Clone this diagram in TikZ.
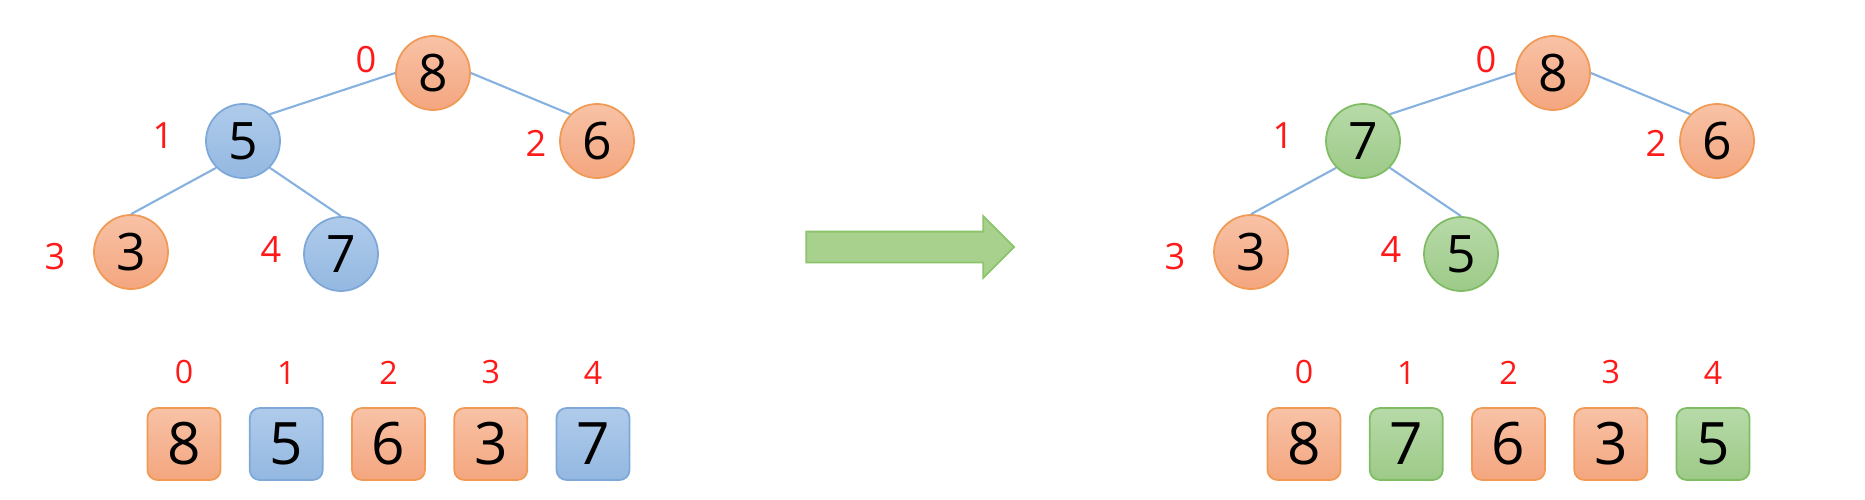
\documentclass[tikz,border=0pt]{standalone}
\usepackage{fontspec}
\setmainfont{Open Sans}
\usepackage{tikz}
\usetikzlibrary{positioning, shapes.arrows, matrix}

\definecolor{StayTop}{HTML}{F8C2A6}
\definecolor{StayBot}{HTML}{F4A67F}
\definecolor{StayLine}{HTML}{F09A55}
\definecolor{BlueTop}{HTML}{AFCBEB}
\definecolor{BlueBot}{HTML}{94B8E1}
\definecolor{BlueLine}{HTML}{7DA8D8}
\definecolor{GreenTop}{HTML}{B7DAA8}
\definecolor{GreenBot}{HTML}{9DCA88}
\definecolor{GreenLine}{HTML}{80BC64}
\definecolor{EdgeBlue}{HTML}{86B1E0}
\definecolor{IndexRed}{HTML}{FF1A1A}
\definecolor{ArrowFill}{HTML}{A9D18E}
\definecolor{ArrowLine}{HTML}{8CC46C}

\begin{document}
\begin{tikzpicture}[
  vertex/.style ={circle, line width=1pt, minimum size=1.48cm, inner sep=0pt,
    font=\fontsize{29.4}{30}\selectfont},
  %
  cell/.style ={rectangle, rounded corners=2mm, line width=1pt,
    minimum width=1.46cm, minimum height=1.44cm, inner sep=0pt,
    font=\fontsize{33.3}{34}\selectfont},
  %
  stay/.style ={draw=StayLine, top color=StayTop, bottom color=StayBot},
  oldswap/.style ={draw=BlueLine, top color=BlueTop, bottom color=BlueBot},
  newswap/.style ={draw=GreenLine, top color=GreenTop, bottom color=GreenBot},
  %
  idx/.style ={text=IndexRed, inner sep=0pt, font=\fontsize{20.6}{21}\selectfont},
  slotnum/.style ={text=IndexRed, inner sep=0pt, font=\fontsize{18.3}{19}\selectfont},
  branch/.style ={draw=EdgeBlue, line width=1.2pt} ]

  \useasboundingbox (0,0) rectangle (37.3,9.98);

  \begin{scope}
    % tree before sift down
    \node [vertex, stay] (L8) at (8.66,8.52) {8};
    \node [vertex, oldswap] (L5) at (4.86,7.16) {5};
    \node [vertex, stay] (L6) at (11.94,7.16) {6};
    \node [vertex, stay] (L3) at (2.62,4.94) {3};
    \node [vertex, oldswap] (L7) at (6.82,4.90) {7};
    %
    \node [idx] (Li0) at (7.32,8.78) {0};
    \node [idx] (Li1) at (3.26,7.26) {1};
    \node [idx] (Li2) at (10.72,7.12) {2};
    \node [idx] (Li3) at (1.10,4.84) {3};
    \node [idx] (Li4) at (5.42,4.98) {4};
    %
    \draw [branch] (L8.west) -- (L5.north east);
    \draw [branch] (L8.east) -- (L6.north west);
    \draw [branch] (L5.south west) -- (L3.north);
    \draw [branch] (L5.south east) -- (L7.north);

    \matrix [column sep=5.5mm] (before) at (7.77,1.10) {
      %%%%%%%%%%%%%%%%%%%%%%%%%%%%%%%
      \node [cell, stay](a0){8}; &
      \node [cell, oldswap](a1){5}; &
      \node [cell, stay](a2){6}; &
      \node [cell, stay](a3){3}; &
      \node [cell, oldswap](a4){7}; \\
    };
    \node [slotnum, above=4.5mm of a0] (as0) {0};
    \node [slotnum, above=4.5mm of a1] (as1) {1};
    \node [slotnum, above=4.5mm of a2] (as2) {2};
    \node [slotnum, above=4.5mm of a3] (as3) {3};
    \node [slotnum, above=4.5mm of a4] (as4) {4};
  \end{scope}

  \node [single arrow, draw=ArrowLine, fill=ArrowFill, line width=1pt,
    minimum width=1.22cm, minimum height=4.16cm,
    single arrow head extend=0.31cm, inner xsep=0pt, inner ysep=0.29cm]
    (sift) at (18.05,5.04) {};

  \begin{scope}
    % tree after sift down
    \node [vertex, stay] (R8) at (31.06,8.52) {8};
    \node [vertex, newswap] (R7) at (27.26,7.16) {7};
    \node [vertex, stay] (R6) at (34.34,7.16) {6};
    \node [vertex, stay] (R3) at (25.02,4.94) {3};
    \node [vertex, newswap] (R5) at (29.22,4.90) {5};
    %
    \node [idx] (Ri0) at (29.72,8.78) {0};
    \node [idx] (Ri1) at (25.66,7.26) {1};
    \node [idx] (Ri2) at (33.12,7.12) {2};
    \node [idx] (Ri3) at (23.50,4.84) {3};
    \node [idx] (Ri4) at (27.82,4.98) {4};
    %
    \draw [branch] (R8.west) -- (R7.north east);
    \draw [branch] (R8.east) -- (R6.north west);
    \draw [branch] (R7.south west) -- (R3.north);
    \draw [branch] (R7.south east) -- (R5.north);

    \matrix [column sep=5.5mm] (after) at (30.17,1.10) {
      %%%%%%%%%%%%%%%%%%%%%%%%%%%%%%%
      \node [cell, stay](b0){8}; &
      \node [cell, newswap](b1){7}; &
      \node [cell, stay](b2){6}; &
      \node [cell, stay](b3){3}; &
      \node [cell, newswap](b4){5}; \\
    };
    \node [slotnum, above=4.5mm of b0] (bs0) {0};
    \node [slotnum, above=4.5mm of b1] (bs1) {1};
    \node [slotnum, above=4.5mm of b2] (bs2) {2};
    \node [slotnum, above=4.5mm of b3] (bs3) {3};
    \node [slotnum, above=4.5mm of b4] (bs4) {4};
  \end{scope}

\end{tikzpicture}
\end{document}
